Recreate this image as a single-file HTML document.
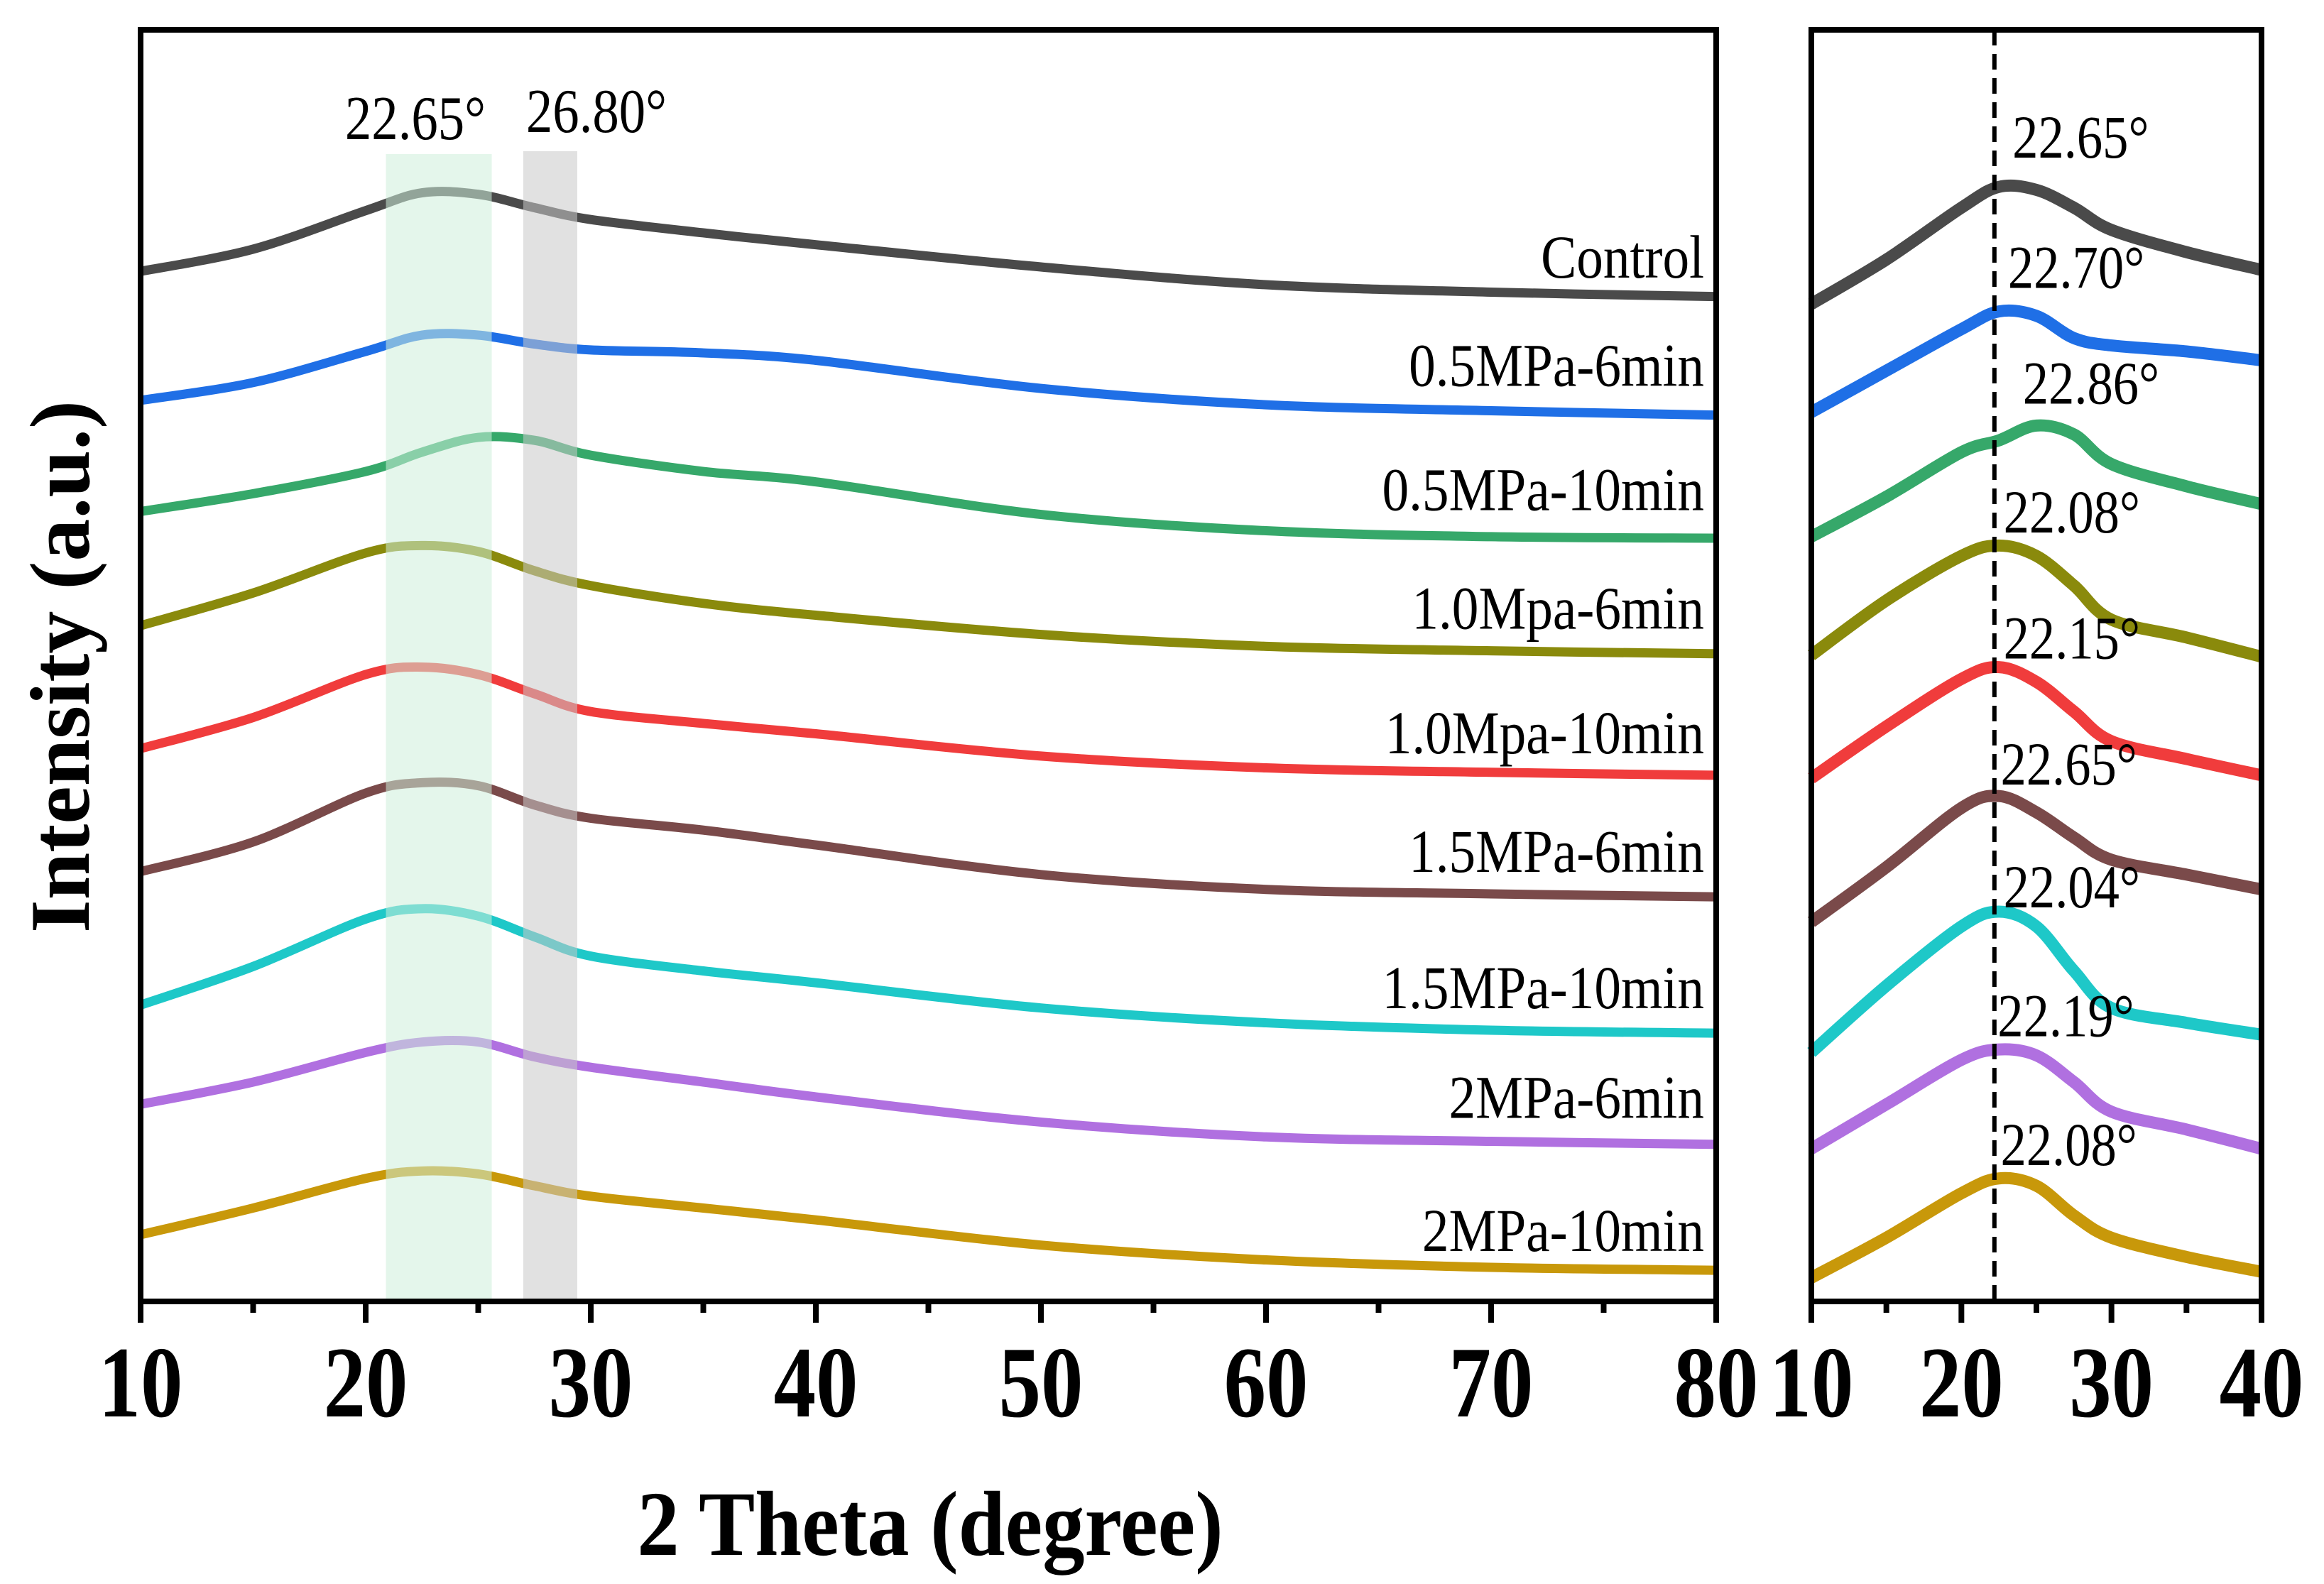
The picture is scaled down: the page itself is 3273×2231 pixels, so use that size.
<!DOCTYPE html>
<html><head><meta charset="utf-8"><style>
html,body{margin:0;padding:0;background:#fff;}
svg{display:block;font-family:"Liberation Serif",serif;}
</style></head><body>
<svg id="c" width="3273" height="2231" viewBox="0 0 3273 2231"></svg>
<script>
const mainX = [10,15,20,22.5,25,27.5,30,35,40,50,60,70,80];
const rightX = [10,15,20,22.5,25,27.5,30,35,40];
const seriesNames = ["Control","0.5MPa-6min","0.5MPa-10min","1.0Mpa-6min","1.0Mpa-10min","1.5MPa-6min","1.5MPa-10min","2MPa-6min","2MPa-10min"];
const seriesColors = ["#4a4a4a","#1f6fe6","#36a86a","#8a8a0c","#f03c3c","#7a4a4a","#1ec8c8","#b070e0","#c8980a"];
const mainControl = [183,168,142,130,131,140,148,157,165,180,192,197,200];
const mainB056 = [270,258,237,226,226,232,236,238,243,262,273,277,280];
const mainB0510 = [345,333,318,305,295,297,307,318,325,347,358,362,363];
const mainB106 = [422,400,373,368,372,385,395,407,415,428,436,439,441];
const mainB1010 = [505,484,455,450,455,468,480,488,495,510,518,521,523];
const mainB156 = [588,568,535,528,530,543,552,560,570,590,600,603,605];
const mainB1510 = [678,652,620,613,618,632,645,655,663,680,690,695,697];
const mainB26 = [745,730,710,703,703,713,720,730,740,757,767,770,772];
const mainB210 = [833,815,795,790,792,800,807,815,823,840,850,855,857];
const rightControl = [205,175,140,126,128,140,155,170,182];
const rightB056 = [278,250,222,210,213,228,233,237,243];
const rightB0510 = [362,335,305,297,287,293,313,328,340];
const rightB106 = [442,405,375,368,375,395,418,430,443];
const rightB1010 = [525,490,458,450,460,480,500,512,523];
const rightB156 = [622,585,545,537,548,565,580,590,600];
const rightB1510 = [710,665,625,615,625,655,680,690,698];
const rightB26 = [775,745,715,708,712,730,750,762,775];
const rightB210 = [862,835,805,795,800,820,835,848,858];
const peakLabels = ["22.65°","22.70°","22.86°","22.08°","22.15°","22.65°","22.04°","22.19°","22.08°"];
const mainTicks = [10,20,30,40,50,60,70,80];
const rightTicks = [10,20,30,40];
const bandGreen = [20.9,25.6];
const bandGray = [27.0,29.4];
const dashX = 22.2;

const S=2.087, YB=1833, YT=42;
const mainData=[mainControl,mainB056,mainB0510,mainB106,mainB1010,mainB156,mainB1510,mainB26,mainB210].map(a=>a.map(v=>878-v));
const rightData=[rightControl,rightB056,rightB0510,rightB106,rightB1010,rightB156,rightB1510,rightB26,rightB210].map(a=>a.map(v=>878-v));
const y=v=>YB-(v/858)*(YB-YT);
const xm=v=>198+(v-10)/70*(2417-198);
const xr=v=>2551+(v-10)/30*(3185-2551);
const svg=document.getElementById('c');
const NS='http://www.w3.org/2000/svg';
function mk(t,a,p){const e=document.createElementNS(NS,t);for(const k in a)e.setAttribute(k,a[k]);(p||svg).appendChild(e);return e;}
function txt(s,x,yy,fs,anchor,sx,sy,bold){return mk('text',{x:0,y:0,'font-size':fs,'text-anchor':anchor,'font-weight':bold?'bold':'normal',transform:'translate('+x+','+yy+') scale('+sx+','+sy+')'});}
function path(pts){let d='M'+pts[0][0]+','+pts[0][1];for(let i=0;i<pts.length-1;i++){const p0=pts[i-1]||pts[i],p1=pts[i],p2=pts[i+1],p3=pts[i+2]||p2;d+=' C'+(p1[0]+(p2[0]-p0[0])/6)+','+(p1[1]+(p2[1]-p0[1])/6)+' '+(p2[0]-(p3[0]-p1[0])/6)+','+(p2[1]-(p3[1]-p1[1])/6)+' '+p2[0]+','+p2[1];}return d;}

mainData.forEach((s,i)=>{const p=mk('path',{d:path(s.map((v,j)=>[xm(mainX[j]),y(v)])),fill:'none',stroke:seriesColors[i],'stroke-width':13,'stroke-linejoin':'round'});

});
[[bandGreen,'rgba(205,238,218,0.55)',217],[bandGray,'rgba(200,200,200,0.55)',213]].forEach((b,i)=>{const r=mk('rect',{x:xm(b[0][0]),y:b[2],width:xm(b[0][1])-xm(b[0][0]),height:YB-b[2],fill:b[1]});

});
[['22.65°',585,196],['26.80°',840,186]].forEach(t=>{const e=txt(t[0],t[1],t[2],68,'middle',1.1,1.3);e.textContent=t[0];

});
const labY=[173,246,330,410,494,574,666,740,830];
seriesNames.forEach((n,i)=>{const e=txt(n,2400,labY[i]*S+30,66,'end',1.14,1.3);e.textContent=n;

});
rightData.forEach((s,i)=>{const p=mk('path',{d:path(s.map((v,j)=>[xr(rightX[j]),y(v)])),fill:'none',stroke:seriesColors[i],'stroke-width':17,'stroke-linejoin':'round'});

});
const pl=[[1358,92],[1355,180],[1365,258],[1352,345],[1352,430],[1350,515],[1352,598],[1348,685],[1350,772]];
peakLabels.forEach((t,i)=>{const e=txt(t,pl[i][0]*S,pl[i][1]*S+30,66,'start',1.1,1.3);e.textContent=t;

});
const dl=mk('line',{x1:xr(dashX),x2:xr(dashX),y1:YT,y2:YB+10,stroke:'#000','stroke-width':6,'stroke-dasharray':'22,12'});


[[198,2417,'main-frame'],[2551,3185,'right-frame']].forEach(f=>{const r=mk('rect',{x:f[0],y:YT,width:f[1]-f[0],height:YB-YT,fill:'none',stroke:'#000','stroke-width':8});

});
function ticks(fx,a,b,labels){for(let v=a;v<=b;v+=5){const maj=v%10===0;mk('line',{x1:fx(v),x2:fx(v),y1:YB,y2:YB+(maj?30:16),stroke:'#000','stroke-width':8});}
labels.forEach(v=>{const e=txt(String(v),fx(v),1995,110,'middle',1.08,1.3,true);e.textContent=v;

});}
ticks(xm,10,80,mainTicks);ticks(xr,10,40,rightTicks);
const xt=txt('',1310,2190,104,'middle',1.14,1.25,true);xt.textContent='2 Theta (degree)';


const yt=mk('text',{x:0,y:0,'font-size':100,'font-weight':'bold','text-anchor':'middle',transform:'translate(125,939) rotate(-90) scale(1.2,1.2)'});yt.textContent='Intensity (a.u.)';


</script>
</body></html>
